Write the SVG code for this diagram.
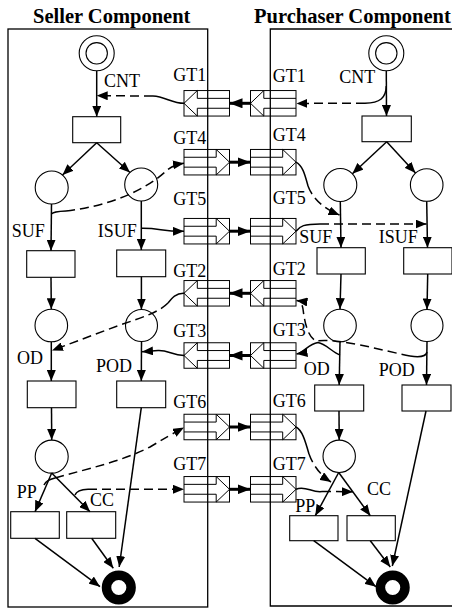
<svg xmlns="http://www.w3.org/2000/svg" width="452" height="610" viewBox="0 0 452 610">
<style>
.box{fill:none;stroke:#000;stroke-width:1.3}
.pl{fill:#fff;stroke:#000;stroke-width:1.1}
.tr{fill:#fff;stroke:#000;stroke-width:1.1}
.gt rect,.gt polyline{fill:none;stroke:#000;stroke-width:1}
.end{fill:none;stroke:#000;stroke-width:9.5}
.ln{fill:none;stroke:#000;stroke-width:1.5}
.ds{fill:none;stroke:#000;stroke-width:1.5;stroke-dasharray:9 5}
.th{fill:none;stroke:#000;stroke-width:3}
.lbl{font-family:"Liberation Serif","Times New Roman",serif;font-size:18px;fill:#000}
.ttl{font-family:"Liberation Serif","Times New Roman",serif;font-size:20.5px;font-weight:bold;fill:#000}
</style>
<defs>
<marker id="ah" viewBox="0 0 11 9" refX="11" refY="4.5" markerWidth="11" markerHeight="9" markerUnits="userSpaceOnUse" orient="auto"><path d="M0,0 L11,4.5 L0,9 z" fill="#000"/></marker>
<marker id="ahb" viewBox="0 0 13 10" refX="13" refY="5" markerWidth="13" markerHeight="10" markerUnits="userSpaceOnUse" orient="auto"><path d="M0,0 L13,5 L0,10 z" fill="#000"/></marker>
<g id="gL" class="gt"><rect x="0" y="0" width="45.5" height="25.5"/><polyline points="45.5,7.8 13.3,7.8 13.3,0 0,12.75 13.3,25.5 13.3,17.7 45.5,17.7"/></g>
<g id="gR" class="gt"><rect x="0" y="0" width="45.5" height="25.5"/><polyline points="0,7.8 32.2,7.8 32.2,0 45.5,12.75 32.2,25.5 32.2,17.7 0,17.7"/></g>
</defs>

<g id="titles">
<text class="ttl" x="33" y="22.5">Seller Component</text>
<text class="ttl" x="254" y="22.5">Purchaser Component</text>
</g>

<g id="seller-box"><rect class="box" x="8" y="29" width="199.7" height="578"/></g>
<g id="purchaser-box"><path class="box" d="M460,29 H270.3 V606 H460"/></g>

<!-- gates -->
<g id="GT1-seller"><use href="#gL" x="184" y="90.55"/><text class="lbl" x="173.3" y="80.5">GT1</text></g>
<g id="GT1-purchaser"><use href="#gL" x="250.5" y="90.55"/><text class="lbl" x="272.7" y="82">GT1</text></g>
<g id="GT4-seller"><use href="#gR" x="184" y="149.45"/><text class="lbl" x="173.3" y="143.5">GT4</text></g>
<g id="GT4-purchaser"><use href="#gR" x="250.5" y="149.45"/><text class="lbl" x="272.7" y="141">GT4</text></g>
<g id="GT5-seller"><use href="#gR" x="184" y="218.45"/><text class="lbl" x="173.3" y="205">GT5</text></g>
<g id="GT5-purchaser"><use href="#gR" x="250.5" y="218.45"/><text class="lbl" x="272.7" y="203.5">GT5</text></g>
<g id="GT2-seller"><use href="#gL" x="184" y="280.55"/><text class="lbl" x="173.3" y="276.5">GT2</text></g>
<g id="GT2-purchaser"><use href="#gL" x="250.5" y="280.55"/><text class="lbl" x="272.7" y="274.5">GT2</text></g>
<g id="GT3-seller"><use href="#gL" x="184" y="342.75"/><text class="lbl" x="173.3" y="336.5">GT3</text></g>
<g id="GT3-purchaser"><use href="#gL" x="250.5" y="342.75"/><text class="lbl" x="272.7" y="335.5">GT3</text></g>
<g id="GT6-seller"><use href="#gR" x="184" y="414.25"/><text class="lbl" x="173.3" y="408.3">GT6</text></g>
<g id="GT6-purchaser"><use href="#gR" x="250.5" y="414.25"/><text class="lbl" x="272.7" y="407">GT6</text></g>
<g id="GT7-seller"><use href="#gR" x="184" y="476.55"/><text class="lbl" x="173.3" y="470">GT7</text></g>
<g id="GT7-purchaser"><use href="#gR" x="250.5" y="476.55"/><text class="lbl" x="272.7" y="470">GT7</text></g>

<!-- seller nodes -->
<g id="s-start"><circle class="pl" cx="96.7" cy="53.3" r="17.5"/><circle class="pl" cx="96.7" cy="53.3" r="10.7"/></g>
<g id="s-t1"><rect class="tr" x="72.7" y="116.7" width="48" height="26"/></g>
<g id="s-p1"><circle class="pl" cx="51.7" cy="187.5" r="16.5"/></g>
<g id="s-p2"><circle class="pl" cx="141.2" cy="184.5" r="16.5"/></g>
<g id="s-t2"><rect class="tr" x="26.7" y="250.7" width="48.3" height="26.6"/></g>
<g id="s-t3"><rect class="tr" x="116.7" y="250" width="49" height="26.7"/></g>
<g id="s-p3"><circle class="pl" cx="51.3" cy="325.5" r="16.3"/></g>
<g id="s-p4"><circle class="pl" cx="141.5" cy="325.5" r="16"/></g>
<g id="s-t4"><rect class="tr" x="27.3" y="381" width="48.7" height="26.7"/></g>
<g id="s-t5"><rect class="tr" x="116.7" y="381" width="49" height="26.7"/></g>
<g id="s-p5"><circle class="pl" cx="51.7" cy="456.6" r="16.5"/></g>
<g id="s-t6"><rect class="tr" x="10.7" y="511.7" width="48.6" height="26.6"/></g>
<g id="s-t7"><rect class="tr" x="66.7" y="511.7" width="49" height="26.6"/></g>
<g id="s-end"><circle class="end" cx="118.8" cy="587.5" r="12.3"/></g>

<!-- purchaser nodes -->
<g id="p-start"><circle class="pl" cx="386.3" cy="53.3" r="17.5"/><circle class="pl" cx="386.3" cy="53.3" r="10.7"/></g>
<g id="p-t1"><rect class="tr" x="362" y="116" width="49.3" height="25.7"/></g>
<g id="p-p1"><circle class="pl" cx="340.3" cy="185" r="16.5"/></g>
<g id="p-p2"><circle class="pl" cx="426.7" cy="185" r="16.3"/></g>
<g id="p-t2"><rect class="tr" x="317" y="247.7" width="48.3" height="26.3"/></g>
<g id="p-t3"><rect class="tr" x="403.7" y="247.7" width="48.3" height="26.3"/></g>
<g id="p-p3"><circle class="pl" cx="340" cy="325.5" r="16.3"/></g>
<g id="p-p4"><circle class="pl" cx="427" cy="325.5" r="16"/></g>
<g id="p-t4"><rect class="tr" x="314.7" y="385" width="49" height="26"/></g>
<g id="p-t5"><rect class="tr" x="402" y="385" width="49" height="26"/></g>
<g id="p-p5"><circle class="pl" cx="339.2" cy="456.3" r="16.2"/></g>
<g id="p-t6"><rect class="tr" x="289.7" y="515.7" width="48.3" height="25"/></g>
<g id="p-t7"><rect class="tr" x="347" y="515.7" width="48.3" height="25"/></g>
<g id="p-end"><circle class="end" cx="392.7" cy="587.5" r="12.3"/></g>

<g id="arc-labels">
<text class="lbl" x="104" y="87">CNT</text>
<text class="lbl" x="11.7" y="237.3">SUF</text>
<text class="lbl" x="97.7" y="237.3">ISUF</text>
<text class="lbl" x="17" y="364">OD</text>
<text class="lbl" x="96" y="371.5">POD</text>
<text class="lbl" x="16.7" y="497.7">PP</text>
<text class="lbl" x="90" y="506">CC</text>
<text class="lbl" x="339.3" y="83.3">CNT</text>
<text class="lbl" x="299.3" y="243.3">SUF</text>
<text class="lbl" x="378.7" y="243.3">ISUF</text>
<text class="lbl" x="303.7" y="374.5">OD</text>
<text class="lbl" x="378.7" y="376">POD</text>
<text class="lbl" x="295.3" y="511.7">PP</text>
<text class="lbl" x="367" y="495">CC</text>
</g>

<g id="connectors">
<!-- seller internal arcs -->
<path class="ln" marker-end="url(#ah)" d="M96.7,71 V116.7"/>
<path class="ln" marker-end="url(#ah)" d="M96.7,142.7 L62.5,175"/>
<path class="ln" marker-end="url(#ah)" d="M96.7,142.7 L130,172.5"/>
<path class="ln" marker-end="url(#ah)" d="M51.5,204 L51,250.7"/>
<path class="ln" marker-end="url(#ah)" d="M141.3,201 V250"/>
<path class="ln" marker-end="url(#ah)" d="M51,277.3 L51.3,309.2"/>
<path class="ln" marker-end="url(#ah)" d="M141.4,276.7 V309.5"/>
<path class="ln" marker-end="url(#ah)" d="M51.3,341.8 V381"/>
<path class="ln" marker-end="url(#ah)" d="M141.5,341.5 L141.3,381"/>
<path class="ln" marker-end="url(#ah)" d="M51.5,407.7 L51.7,440"/>
<path class="ln" marker-end="url(#ah)" d="M141.3,407.7 L119.2,567"/>
<path class="ln" marker-end="url(#ah)" d="M51.7,473 L35,511.7"/>
<path class="ln" marker-end="url(#ah)" d="M51.7,473 L90,511.7"/>
<path class="ln" marker-end="url(#ah)" d="M35,538.3 L100,586.7"/>
<path class="ln" marker-end="url(#ah)" d="M91.7,538.3 L113.3,568.3"/>

<!-- seller gate arcs -->
<path class="ln" d="M184,103.3 C172,103.3 165,96.5 153,96"/>
<path class="ds" marker-end="url(#ah)" d="M153,96 L96.7,95.7"/>
<path class="ln" d="M51.7,214 Q53,211.5 66,211"/>
<path class="ds" marker-end="url(#ah)" d="M66,211 C110,206 145,190 165,172 Q172,165 184,163.3"/>
<path class="ln" marker-end="url(#ah)" d="M141.3,228.3 C160,228 162,231.5 184,231.2"/>
<path class="ln" d="M184,293.3 C176,293 172,298 168,303"/>
<path class="ds" marker-end="url(#ah)" d="M168,303 C158,313 140,318 120,325 L52,350.5"/>
<path class="ln" marker-end="url(#ah)" d="M184,355.5 C172,355 168,350 158,350.5 L142,351.7"/>
<path class="ln" d="M44,485 Q46,480 55,478"/>
<path class="ds" marker-end="url(#ah)" d="M55,478 C90,468 120,462 150,447 Q170,435 184,427.5"/>
<path class="ln" d="M75,495 Q77,489.5 88,489.2"/>
<path class="ds" marker-end="url(#ah)" d="M88,489.2 L184,489.3"/>

<!-- gate to gate -->
<path class="th" marker-end="url(#ahb)" d="M250.5,103.3 H229.5"/>
<path class="th" marker-end="url(#ahb)" d="M229.5,162.2 H250.5"/>
<path class="th" marker-end="url(#ahb)" d="M229.5,231.2 H250.5"/>
<path class="th" marker-end="url(#ahb)" d="M250.5,293.3 H229.5"/>
<path class="th" marker-end="url(#ahb)" d="M250.5,355.5 H229.5"/>
<path class="th" marker-end="url(#ahb)" d="M229.5,427 H250.5"/>
<path class="th" marker-end="url(#ahb)" d="M229.5,489.3 H250.5"/>

<!-- purchaser internal arcs -->
<path class="ln" marker-end="url(#ah)" d="M386.3,71 L386.5,116"/>
<path class="ln" marker-end="url(#ah)" d="M386.7,141.7 L352.4,173.7"/>
<path class="ln" marker-end="url(#ah)" d="M386.7,141.7 L415.5,172.9"/>
<path class="ln" marker-end="url(#ah)" d="M340.3,201.5 L341,247.7"/>
<path class="ln" marker-end="url(#ah)" d="M426.7,201.3 L427.5,247.7"/>
<path class="ln" marker-end="url(#ah)" d="M341,274 L340,309.2"/>
<path class="ln" marker-end="url(#ah)" d="M427.7,274 L427,309.5"/>
<path class="ln" marker-end="url(#ah)" d="M340,341.8 L339.2,385"/>
<path class="ln" marker-end="url(#ah)" d="M427,341.5 L426.5,385"/>
<path class="ln" marker-end="url(#ah)" d="M339,411 L339.2,440"/>
<path class="ln" marker-end="url(#ah)" d="M426,411 L392.3,566"/>
<path class="ln" marker-end="url(#ah)" d="M338.7,472.5 L315.3,515.7"/>
<path class="ln" marker-end="url(#ah)" d="M338.7,472.5 L370.3,515.7"/>
<path class="ln" marker-end="url(#ah)" d="M313.7,540.7 L376,586.7"/>
<path class="ln" marker-end="url(#ah)" d="M370.3,540.7 L390.3,567"/>

<!-- purchaser gate arcs -->
<path class="ln" d="M386.3,86 C386,98 380,103 365,103.3"/>
<path class="ds" marker-end="url(#ah)" d="M365,103.3 L296.5,103.4"/>
<path class="ln" d="M296,162.2 C303,166 305,175 308,186"/>
<path class="ds" marker-end="url(#ah)" d="M308,186 C312,197 322,208 339.5,215"/>
<path class="ln" d="M296,231.2 C300,226 304,224 320,224"/>
<path class="ds" marker-end="url(#ah)" d="M320,224 L426.5,224"/>
<path class="ln" d="M427,352 C426,357 420,357.5 410,356"/>
<path class="ds" marker-end="url(#ah)" d="M410,356 C380,350 340,338 316,341 C306,336 304,316 303,309 C302,303 300,301 296.5,300.5"/>
<path class="ln" marker-end="url(#ah)" d="M340,355 C332,352 326,344 318,342.5 C308,344 304,353 296.5,354"/>
<path class="ln" d="M296,427 C302,430 305,440 309,454"/>
<path class="ds" marker-end="url(#ah)" d="M309,454 C313,465 320,475 331,482"/>
<path class="ln" d="M296,489.3 C305,485 312,493 322,491.5"/>
<path class="ds" marker-end="url(#ah)" d="M322,491.5 L353,491.7"/>
</g>
</svg>
